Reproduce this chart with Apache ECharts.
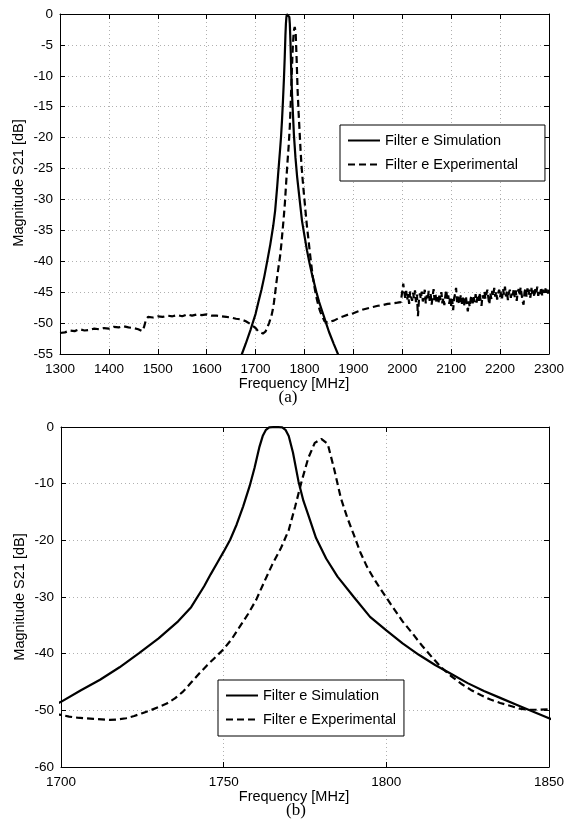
<!DOCTYPE html>
<html>
<head>
<meta charset="utf-8">
<script src="https://cdn.jsdelivr.net/npm/echarts@6/dist/echarts.min.js"></script>
<style>
html,body{margin:0;padding:0;background:#fff;}
#chart{width:567px;height:830px;}
</style>
</head>
<body>
<div id="chart"></div>
<script>
// Simulation curve (frequency MHz, magnitude dB)
const simFreq = [1650,1660,1672,1680,1690,1700,1706,1712,1718,1724,1730,1736,1740,1744,1746,1748,1750,1752,1754,1756,1758,1759.5,1761,1762,1763,1764,1766,1768,1769,1770,1771.3,1773,1774.5,1776,1778.4,1781.5,1785,1790,1795,1800,1805,1810,1815,1820,1825,1830,1835,1840,1845,1850,1860,1870,1880];
const simDb   = [-59.5,-57.5,-55,-53.3,-51,-48.5,-46.5,-44.6,-42.4,-39.9,-37.3,-34.3,-31.8,-28.1,-26.0,-24,-22,-19.9,-17.2,-14,-10.4,-7.2,-3.5,-1.6,-0.5,-0.05,0,-0.05,-0.5,-1.6,-4.5,-9.6,-13,-15.5,-19.6,-23.2,-26.4,-30,-33.5,-35.9,-38.2,-40.2,-42,-43.6,-45.2,-46.6,-47.8,-49,-50.2,-51.4,-53.4,-55.3,-57.2];

// Experimental curve, low band + passband (frequency MHz, magnitude dB)
const expFreq = [
 1300,1310,1320,1330,1340,1350,1360,1370,1380,1390,1400,1410,1420,1430,1440,1450,1460,1468,1472,1476,1480,1490,
 1500,1510,1520,1530,1540,1550,1560,1570,1580,1590,1600,1610,1620,1630,1640,1650,1660,1670,1680,1690,1695,
 1700,1702.5,1705,1707.5,1710,1712.5,1715,1717.5,1720,1722.5,1725,1727.5,1730,1732.5,1735,1737.5,1740,1742.5,1745,1747.5,
 1750,1752.5,1755,1757.5,1760,1762.5,1765,1767.5,1770,1772,1774,1776,1778,1780,1782,1784,1786,1788,1790,1792,1794,1796,1798,
 1800,1802,1805,1808,1811,1814,1817,1820,1823,1826,1829,1832,1835,1838,1841,1844,1847,1850,
 1855,1860,1870,1880,1890,1900,1910,1920,1930,1940,1950,1960,1970,1980,1990,1997];
const expDb = [
 -51.6,-51.5,-51.2,-51.3,-51.0,-51.2,-51.1,-50.9,-51.0,-50.8,-50.9,-50.6,-50.7,-50.5,-50.7,-50.8,-51.0,-51.3,-50.6,-49.4,-49.0,-49.1,
 -48.9,-49.0,-48.8,-48.9,-48.7,-48.9,-48.6,-48.8,-48.6,-48.7,-48.6,-48.8,-48.8,-48.9,-49.0,-49.1,-49.3,-49.4,-49.7,-50.2,-50.5,
 -50.8,-51.1,-51.3,-51.4,-51.5,-51.6,-51.7,-51.6,-51.4,-51.0,-50.5,-50.0,-49.4,-48.8,-47.9,-46.7,-45.1,-43.5,-42.0,-40.6,
 -39.2,-37.4,-35.2,-33.0,-30.5,-27.3,-24.2,-21.5,-18.2,-14.0,-9.5,-5.5,-2.8,-2.1,-3.0,-7.5,-12.5,-16.0,-19.0,-22.1,-24.6,-26.6,-28.4,
 -30.1,-31.8,-34.3,-36.4,-38.6,-40.6,-42.5,-44.0,-45.3,-46.4,-47.3,-48.1,-48.7,-49.2,-49.7,-49.9,-49.9,-49.8,
 -49.7,-49.6,-49.2,-48.9,-48.6,-48.4,-48.1,-47.8,-47.6,-47.4,-47.2,-47.1,-46.9,-46.8,-46.7,-46.6];

// Experimental curve, noisy high band 2000-2300 MHz
const hiFreq = [
 2000,2002,2004,2006,2008,2010,2012,2014,2016,2018,2020,2022,2024,2026,2028,2030,2032,2034,2036,2038,
 2040,2042,2044,2046,2048,2050,2052,2054,2056,2058,2060,2062,2064,2066,2068,2070,2072,2074,2076,2078,
 2080,2082,2084,2086,2088,2090,2092,2094,2096,2098,2100,2102,2104,2106,2108,2110,2112,2114,2116,2118,
 2120,2122,2124,2126,2128,2130,2132,2134,2136,2138,2140,2142,2144,2146,2148,2150,2152,2154,2156,2158,
 2160,2162,2164,2166,2168,2170,2172,2174,2176,2178,2180,2182,2184,2186,2188,2190,2192,2194,2196,2198,
 2200,2202,2204,2206,2208,2210,2212,2214,2216,2218,2220,2222,2224,2226,2228,2230,2232,2234,2236,2238,
 2240,2242,2244,2246,2248,2250,2252,2254,2256,2258,2260,2262,2264,2266,2268,2270,2272,2274,2276,2278,
 2280,2282,2284,2286,2288,2290,2292,2294,2296,2298,2300];
const hiDb = [
 -46.6,-43.6,-45.0,-45.9,-44.8,-46.2,-45.3,-46.9,-44.9,-45.7,-46.4,-45.1,-46.0,-44.7,-46.6,-45.4,-48.9,-46.3,-45.2,-46.1,
 -44.9,-46.5,-45.6,-44.6,-46.8,-45.5,-46.2,-44.8,-46.4,-45.3,-47.0,-45.7,-44.5,-46.3,-45.4,-46.7,-45.8,-46.9,-45.2,-46.3,
 -45.0,-46.8,-45.9,-47.1,-45.6,-44.6,-46.4,-45.5,-46.9,-45.8,-47.2,-46.1,-47.9,-46.0,-45.3,-44.3,-46.6,-45.7,-47.0,-46.2,
 -45.4,-46.9,-45.9,-47.3,-46.3,-45.6,-47.0,-48.1,-46.5,-47.4,-46.0,-45.5,-46.8,-45.8,-46.6,-45.3,-46.7,-45.6,-46.4,-45.1,
 -46.2,-47.2,-45.5,-46.0,-44.9,-46.1,-45.3,-44.6,-45.9,-47.0,-45.1,-46.1,-44.8,-45.6,-44.3,-45.7,-44.9,-46.2,-45.2,-44.6,
 -45.8,-44.9,-46.0,-44.5,-45.4,-44.1,-45.7,-44.8,-46.3,-45.1,-44.6,-45.9,-44.9,-45.5,-44.4,-45.8,-44.7,-46.4,-45.0,-44.5,
 -45.6,-44.2,-45.3,-46.5,-47.0,-45.0,-44.3,-45.7,-44.4,-45.5,-44.6,-45.9,-44.3,-45.4,-44.7,-45.8,-44.5,-45.2,-44.1,-45.6,
 -44.7,-45.3,-44.2,-45.5,-44.6,-45.1,-44.2,-45.0,-44.4,-45.2,-44.6];

// Axis ranges / tick intervals
const topX = {min:1300, max:2300, interval:100};
const topY = {min:-55, max:0, interval:5};
const botX = {min:1700, max:1850, interval:50};
const botY = {min:-60, max:0, interval:10};
const seriesNames = ['Filter e Simulation','Filter e Experimental'];

const pairs = (xs, ys) => xs.map((x, i) => [x, ys[i]]);
const simData = pairs(simFreq, simDb);
const expData = pairs(expFreq, expDb).concat(pairs(hiFreq, hiDb));

const FONT = '"Liberation Sans", Arial, Helvetica, sans-serif';
const tickStyle = {inside:true, length:5, lineStyle:{color:'#000', width:1}};
const lineStyleAxis = {color:'#000', width:1};
const gridLine = {show:true, lineStyle:{color:'#b0b0b0', type:[1,3], width:1}};
const plain = v => String(v);

function mainX(r, gi){
  return {type:'value', gridIndex:gi, min:r.min, max:r.max, interval:r.interval, position:'bottom',
    axisLine:{show:true, onZero:false, lineStyle:lineStyleAxis}, axisTick:tickStyle,
    axisLabel:{color:'#000', fontSize:13.5, fontFamily:FONT, margin:8, formatter:plain, hideOverlap:false, showMinLabel:true, showMaxLabel:true},
    splitLine:gridLine};
}
function sideX(r, gi){
  return {type:'value', gridIndex:gi, min:r.min, max:r.max, interval:r.interval, position:'top',
    axisLine:{show:true, onZero:false, lineStyle:lineStyleAxis}, axisTick:tickStyle,
    axisLabel:{show:false}, splitLine:{show:false}};
}
function mainY(r, gi){
  return {type:'value', gridIndex:gi, min:r.min, max:r.max, interval:r.interval, position:'left',
    axisLine:{show:true, onZero:false, lineStyle:lineStyleAxis}, axisTick:tickStyle,
    axisLabel:{color:'#000', fontSize:13.5, fontFamily:FONT, margin:7, formatter:plain}, splitLine:gridLine};
}
function sideY(r, gi){
  return {type:'value', gridIndex:gi, min:r.min, max:r.max, interval:r.interval, position:'right',
    axisLine:{show:true, onZero:false, lineStyle:lineStyleAxis}, axisTick:tickStyle,
    axisLabel:{show:false}, splitLine:{show:false}};
}
function lineSeries(name, data, xi, yi, dashed){
  return {name:name, type:'line', data:data, xAxisIndex:xi, yAxisIndex:yi, symbol:'none', showSymbol:false,
    smooth:false, clip:true, animation:false,
    itemStyle:{color:'#000', opacity:0},
    lineStyle:{color:'#000', width:2.2, type: dashed ? [7,4] : 'solid'}};
}
function legendAt(left, top, padRight){
  return {data:seriesNames, orient:'vertical', left:left, top:top, itemWidth:32, itemHeight:14, itemGap:9,
    padding:[8, padRight, 9, 7], borderColor:'#000', borderWidth:1, backgroundColor:'#fff',
    itemStyle:{opacity:0, borderWidth:0},
    textStyle:{color:'#000', fontSize:14.5, fontFamily:FONT}, selectedMode:false};
}

const chart = echarts.init(document.getElementById('chart'), null, {renderer:'canvas'});
chart.setOption({
  animation:false,
  backgroundColor:'#fff',
  grid:[
    {left:60, top:14, width:489, height:340, containLabel:false},
    {left:61, top:427, width:489, height:340, containLabel:false}
  ],
  xAxis:[mainX(topX,0), sideX(topX,0), mainX(botX,1), sideX(botX,1)],
  yAxis:[mainY(topY,0), sideY(topY,0), mainY(botY,1), sideY(botY,1)],
  legend:[legendAt(340,125,27), legendAt(218,680,8)],
  series:[
    lineSeries(seriesNames[0], simData, 0, 0, false),
    lineSeries(seriesNames[1], expData, 0, 0, true),
    lineSeries(seriesNames[0], simData, 2, 2, false),
    lineSeries(seriesNames[1], expData, 2, 2, true)
  ],
  graphic:[
    {type:'text', style:{text:'Frequency [MHz]', x:294, y:384, align:'center', verticalAlign:'middle', fill:'#000', font:'14.5px ' + FONT}},
    {type:'text', style:{text:'Frequency [MHz]', x:294, y:797, align:'center', verticalAlign:'middle', fill:'#000', font:'14.5px ' + FONT}},
    {type:'text', x:19, y:183, rotation:Math.PI/2, style:{text:'Magnitude S21 [dB]', x:0, y:0, align:'center', verticalAlign:'middle', fill:'#000', font:'14.5px ' + FONT}},
    {type:'text', x:20, y:597, rotation:Math.PI/2, style:{text:'Magnitude S21 [dB]', x:0, y:0, align:'center', verticalAlign:'middle', fill:'#000', font:'14.5px ' + FONT}},
    {type:'text', style:{text:'(a)', x:288, y:398, align:'center', verticalAlign:'middle', fill:'#000', font:'17px "Liberation Serif", "Times New Roman", serif'}},
    {type:'text', style:{text:'(b)', x:296, y:811, align:'center', verticalAlign:'middle', fill:'#000', font:'17px "Liberation Serif", "Times New Roman", serif'}}
  ]
});
</script>
</body>
</html>
